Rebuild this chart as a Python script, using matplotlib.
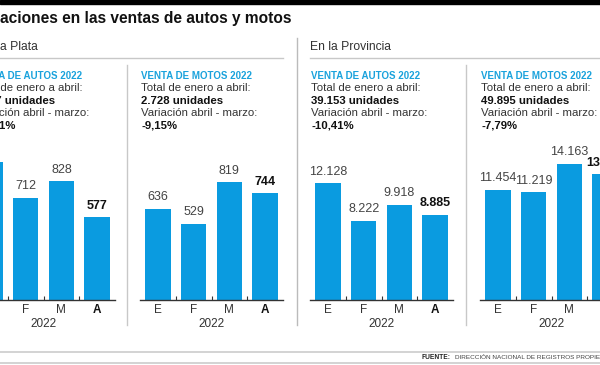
import matplotlib.pyplot as plt
from matplotlib.lines import Line2D
from matplotlib.patches import Rectangle

# data
months = ["E", "F", "M", "A"]
autos_lp = [960, 712, 828, 577]
motos_lp = [636, 529, 819, 744]
autos_prov = [12128, 8222, 9918, 8885]
motos_prov = [11454, 11219, 14163, 13059]
titles = ["VENTA DE AUTOS 2022", "VENTA DE MOTOS 2022", "VENTA DE AUTOS 2022", "VENTA DE MOTOS 2022"]
variations = ["-30,31%", "-9,15%", "-10,41%", "-7,79%"]

plt.rcParams['font.family'] = ['Liberation Sans', 'DejaVu Sans']

W, H = 600, 365
fig = plt.figure(figsize=(6, 3.65), dpi=100)
fig.patch.set_facecolor('white')

def fx(x):
    return x / W

def fy(y):
    return 1 - y / H

def line(x0, y0, x1, y1, color='#c8c8c8', lw=1.0):
    fig.add_artist(Line2D([fx(x0), fx(x1)], [fy(y0), fy(y1)], color=color, lw=lw,
                          transform=fig.transFigure))

def fmt(v):
    return f"{v:,}".replace(",", ".")

# top black band and title
fig.add_artist(Rectangle((0, fy(4)), 1, 4 / H, color='black', transform=fig.transFigure))
fig.text(fx(0), fy(19), "aciones en las ventas de autos y motos", fontsize=11.2,
         fontweight='bold', color='#111111', va='center', ha='left')

# section headers
fig.text(fx(0), fy(47), "a Plata", fontsize=8.7, color='#333333', va='center')
fig.text(fx(310), fy(47), "En la Provincia", fontsize=8.7, color='#333333', va='center')
line(0, 58, 283, 58)
line(310, 58, 600, 58)

# dividers
line(297, 38, 297, 325, color='#bbbbbb')
line(127, 65, 127, 325)
line(466, 65, 466, 325)

# bottom lines and source
line(0, 352, 600, 352, color='#cccccc', lw=1.2)
line(0, 363, 600, 363, color='#cccccc', lw=1.2)
src = fig.text(fx(422), fy(357.5), "FUENTE:", fontsize=4.8, fontweight='bold', color='#222222', va='center')
fig.text(fx(455), fy(357.5), "DIRECCIÓN NACIONAL DE REGISTROS PROPIEDAD AUTOMOTOR",
         fontsize=4.6, color='#444444', va='center')

panels = [
    (-28, autos_lp, 1114, fmt(sum(autos_lp))),
    (140, motos_lp, 1114, fmt(sum(motos_lp))),
    (310, autos_prov, 16640, fmt(sum(autos_prov))),
    (480, motos_prov, 16640, fmt(sum(motos_prov))),
]

bar_color = '#0a9be0'
for i, (left, vals, ytop, total) in enumerate(panels):
    tx = left + 1
    fig.text(fx(tx), fy(76), titles[i], fontsize=7, fontweight='bold', color='#1aa2dc', va='center')
    fig.text(fx(tx), fy(88), "Total de enero a abril:", fontsize=8.2, color='#333333', va='center')
    fig.text(fx(tx), fy(100.5), total + " unidades", fontsize=8.2, fontweight='bold', color='#111111', va='center')
    fig.text(fx(tx), fy(112.5), "Variación abril - marzo:", fontsize=8.2, color='#333333', va='center')
    fig.text(fx(tx), fy(125), variations[i], fontsize=8.2, fontweight='bold', color='#111111', va='center')

    ax = fig.add_axes([fx(left), fy(300), 143 / W, 160 / H])
    x = range(len(months))
    ax.bar(x, vals, width=0.71, color=bar_color)
    ax.set_xlim(-0.5, 3.5)
    ax.set_ylim(0, ytop)
    for j, v in enumerate(vals):
        last = j == len(vals) - 1
        ax.annotate(fmt(v), (j, v), xytext=(0, 4), textcoords='offset points', ha='center', va='bottom',
                    fontsize=9, fontweight='bold' if last else 'normal',
                    color='#111111' if last else '#444444')
    for s in ['top', 'right', 'left']:
        ax.spines[s].set_visible(False)
    ax.spines['bottom'].set_color('#333333')
    ax.spines['bottom'].set_linewidth(1.0)
    ax.set_yticks([])
    ax.set_xticks(list(x))
    ax.set_xticklabels(months, fontsize=8.5, color='#333333')
    ax.get_xticklabels()[-1].set_fontweight('bold')
    ax.get_xticklabels()[-1].set_color('#111111')
    ax.tick_params(axis='x', which='major', length=0, pad=3)
    ax.set_xticks([0.5, 1.5, 2.5], minor=True)
    ax.tick_params(axis='x', which='minor', direction='in', length=3, width=0.8, color='#333333')
    ax.set_xlabel("2022", fontsize=8.5, color='#333333', labelpad=1)
    ax.patch.set_alpha(0)

fig.savefig("out.png", dpi=100)
